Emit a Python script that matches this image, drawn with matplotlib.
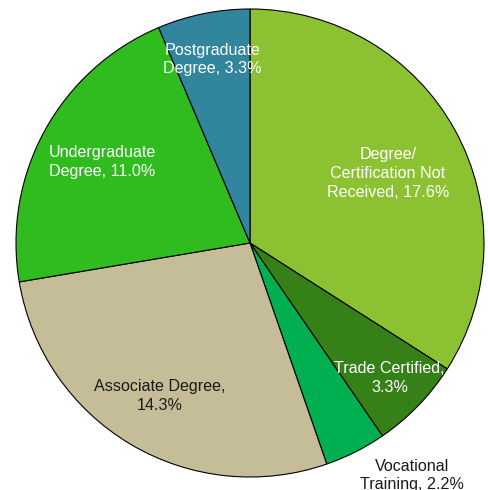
import numpy as np
import matplotlib
matplotlib.use("Agg")
import matplotlib.pyplot as plt

# Education attainment shares (percent of respondents)
categories = ["Degree/\nCertification Not\nReceived", "Trade Certified", "Vocational\nTraining",
              "Associate Degree", "Undergraduate\nDegree", "Postgraduate\nDegree"]
values = [17.6, 3.3, 2.2, 14.3, 11.0, 3.3]
# where the value goes: same line or next line
value_sep = [", ", ",\n", ", ", ",\n", ", ", ", "]

colors = ["#8cc232", "#358017", "#00b050", "#c4bd97", "#30bc1e", "#31859c"]
text_colors = ["white", "white", "#1a1a1a", "#1a1a1a", "white", "white"]
# radial distance of each label and an angle nudge (degrees)
label_r = [0.66, 0.83, 1.21, 0.76, 0.72, 0.80]
label_dang = [-2, 0, 8, 0, 0, 0]

fig = plt.figure(figsize=(4.88, 4.90), dpi=100)
ax = fig.add_axes([16 / 488, 13 / 490, 468 / 488, 468 / 490])

wedges, _ = ax.pie(values, colors=colors, startangle=90, counterclock=False,
                   wedgeprops=dict(edgecolor="black", linewidth=0.8))

for w, cat, v, sep, tc, r, da in zip(wedges, categories, values, value_sep,
                                     text_colors, label_r, label_dang):
    ang = np.deg2rad((w.theta1 + w.theta2) / 2 + da)
    ax.text(r * np.cos(ang), r * np.sin(ang), f"{cat}{sep}{v:.1f}%",
            ha="center", va="center", multialignment="center",
            color=tc, fontsize=11.6, family=["Liberation Sans", "DejaVu Sans"],
            linespacing=1.3, clip_on=False)

ax.set_xlim(-1, 1)
ax.set_ylim(-1, 1)
ax.set_aspect("equal")
ax.axis("off")

fig.savefig("out.png", dpi=100)
